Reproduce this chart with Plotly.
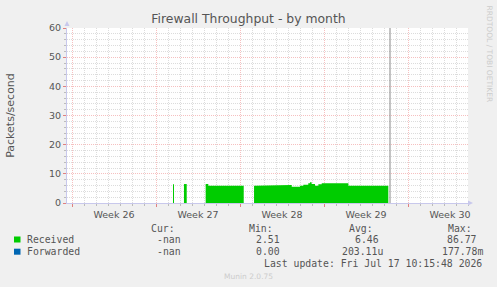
import plotly.graph_objects as go

# ---------------- data ----------------
# time in days since Monday of week 26 (step boundaries); value holds until next time
times = [8.4167, 8.50, 9.33, 9.56, 11.14, 11.36, 13.03, 13.31, 13.50, 13.92, 14.31,
         15.17, 17.89, 18.31, 19.00, 19.28, 19.69, 19.83, 19.97, 20.25, 20.53, 20.81,
         23.03, 24.97, 25.39, 26.36]
received = [6.4, None, 6.5, None, 6.5, 5.95, 6.2, 5.95, 6.2, 5.95, None,
            5.95, 6.2, 5.6, 5.95, 6.3, 6.8, 7.1, 6.5, 5.95, 6.4, 6.75,
            5.95, 6.2, 5.95, None]
vrule_day = 26.5

week_starts = [0, 7, 14, 21, 28]
week_labels = ["Week 26", "Week 27", "Week 28", "Week 29", "Week 30"]
x_range = [-5 / 12, 396 / 12]
y_range = [0, 60]

series_names = ["Received", "Forwarded"]
series_colors = ["#00CC00", "#0066B3"]
stat_headers = ["Cur:", "Min:", "Avg:", "Max:"]
stat_cur = ["-nan", "-nan"]
stat_min = ["2.51", "0.00"]
stat_avg = ["6.46", "203.11u"]
stat_max = ["86.77", "177.78m"]
last_update = "Last update: Fri Jul 17 10:15:48 2026"
title_text = "Firewall Throughput - by month"
y_title = "Packets/second"
version_text = "Munin 2.0.75"
side_text = "RRDTOOL / TOBI OETIKER"

# ---------------- build step segments (split at gaps) ----------------
segments = []
cur_x, cur_y = [], []
for i, v in enumerate(received):
    if v is None:
        if cur_x:
            segments.append((cur_x, cur_y))
        cur_x, cur_y = [], []
        continue
    t_end = times[i + 1] if i + 1 < len(times) else times[i]
    cur_x += [times[i], t_end]
    cur_y += [v, v]
if cur_x:
    segments.append((cur_x, cur_y))

W, H = 497, 287
L, R, T, B = 67, 468, 28, 203


def px(x):
    return (x - L) / (R - L)


def py(y):
    return (B - y) / (B - T)


TXT = "#555555"
RED = "#f6c0c0"
GRID = "#dcdcdc"
AXC = "#c8c8ec"

fig = go.Figure()
for sx, sy in segments:
    fig.add_trace(go.Scatter(x=sx, y=sy, mode="lines", line=dict(width=0, color=series_colors[0]),
                             fill="tozeroy", fillcolor=series_colors[0],
                             hoverinfo="skip", showlegend=False))
fig.add_trace(go.Scatter(x=[], y=[], xaxis="x2", showlegend=False))
fig.add_vline(x=vrule_day, line_color="#888888", line_width=1)

fig.update_layout(
    width=W, height=H,
    margin=dict(l=L, r=W - R, t=T, b=H - B, pad=0, autoexpand=False),
    paper_bgcolor="#f0f0f0", plot_bgcolor="#ffffff",
    showlegend=False,
    title=dict(text=title_text, x=0.5, xanchor="center", y=1 - 19 / H, yanchor="middle",
               font=dict(family="DejaVu Sans", size=12.4, color=TXT)),
    xaxis=dict(range=x_range, tickvals=week_starts, showticklabels=False, automargin=False,
               showgrid=True, gridcolor=RED, griddash="1px,1px", gridwidth=1,
               ticks="outside", ticklen=3, tickcolor="#e08080",
               minor=dict(dtick=1, showgrid=True, gridcolor=GRID, griddash="1px,1px",
                          ticks="outside", ticklen=2, tickcolor="#bbbbbb"),
               showline=True, linecolor=AXC, linewidth=1, zeroline=False, fixedrange=True),
    xaxis2=dict(range=x_range, overlaying="x", anchor="y", side="bottom", automargin=False,
                tickvals=[s + 3.5 for s in week_starts], ticktext=week_labels,
                showgrid=False, showline=False, zeroline=False, ticks="",
                ticklabelstandoff=4,
                tickfont=dict(family="DejaVu Sans", size=9.5, color=TXT)),
    yaxis=dict(range=y_range, dtick=10, showgrid=True, gridcolor=RED, griddash="1px,1px",
               automargin=False,
               ticks="outside", ticklen=3, tickcolor="#e08080",
               minor=dict(dtick=2, showgrid=True, gridcolor=GRID, griddash="1px,1px",
                          ticks="outside", ticklen=2, tickcolor="#bbbbbb"),
               showline=True, linecolor=AXC, linewidth=1, zeroline=False,
               tickfont=dict(family="DejaVu Sans", size=9.5, color=TXT),
               title=dict(text=y_title, font=dict(family="DejaVu Sans", size=11, color=TXT),
                          standoff=32)),
)

ann = []
mono = dict(family="DejaVu Sans Mono", size=9.8, color=TXT)


def text_at(x, y, s, font, xanchor="left", **kw):
    ann.append(dict(x=px(x), y=py(y), xref="paper", yref="paper", text=s, showarrow=False,
                    xanchor=xanchor, yanchor="middle", font=font, borderpad=0, **kw))


header_x = [149.5, 248, 348, 446.5]
for hx, h in zip(header_x, stat_headers):
    text_at(hx, 228, h, mono)

row_y = [239.5, 251.7]
# left edges of each value, per row
cur_x = [155.5, 155.5]
min_x = [254.5, 254.5]
avg_x = [353.5, 341]
max_x = [446, 441]
for i, name in enumerate(series_names):
    text_at(26, row_y[i], name, mono)
    text_at(cur_x[i], row_y[i], stat_cur[i], mono)
    text_at(min_x[i], row_y[i], stat_min[i], mono)
    text_at(avg_x[i], row_y[i], stat_avg[i], mono)
    text_at(max_x[i], row_y[i], stat_max[i], mono)
    fig.add_shape(type="rect", xref="paper", yref="paper",
                  x0=px(14), x1=px(20.5), y0=py(row_y[i] - 3), y1=py(row_y[i] + 3),
                  fillcolor=series_colors[i], line=dict(width=0))

text_at(483, 263.5, last_update, mono, xanchor="right")
text_at(248, 276, version_text, dict(family="DejaVu Sans", size=7.5, color="#cccccc"), xanchor="center")
text_at(489, 53.5, side_text, dict(family="DejaVu Sans", size=7.5, color="#cccccc"),
        xanchor="center", textangle=90)

# axis arrows
fig.add_shape(type="path", xref="paper", yref="paper",
              path=f"M {px(64.5)} {py(26)} L {px(69.5)} {py(26)} L {px(67)} {py(21)} Z",
              fillcolor=AXC, line=dict(width=0))
fig.add_shape(type="path", xref="paper", yref="paper",
              path=f"M {px(468)} {py(200.5)} L {px(468)} {py(205.5)} L {px(473)} {py(203)} Z",
              fillcolor=AXC, line=dict(width=0))

fig.update_layout(annotations=ann)
fig.write_html("out.html")
